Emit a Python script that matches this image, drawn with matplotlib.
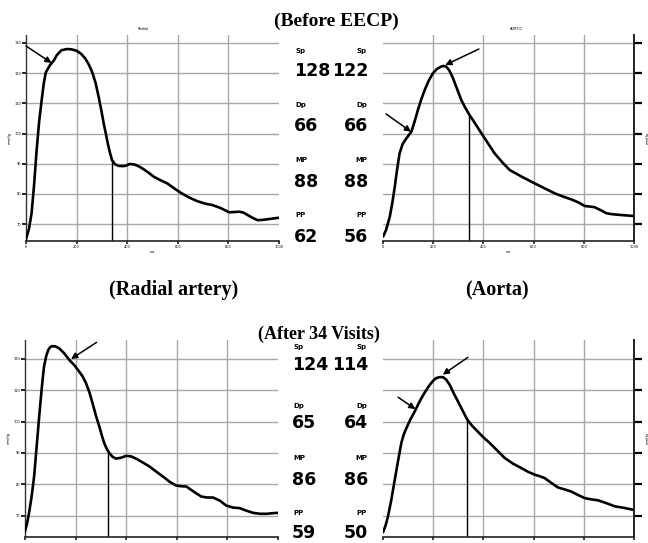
import matplotlib
matplotlib.use("Agg")
import matplotlib.pyplot as plt

# ---------------- data ----------------
# Before EECP - radial artery (time ms, pressure mmHg)
radial_before_t = [0, 12, 22, 32, 42, 52, 62, 70, 78, 95, 110, 122, 140, 161, 180, 201, 218, 234, 248, 261,
                   275, 287, 298, 307, 316, 323, 332, 340, 352, 366, 380, 393, 410, 426, 442, 459, 480, 505,
                   530, 558, 585, 611, 645, 677, 707, 737, 770, 803, 823, 843, 860, 876, 895, 915, 935, 955, 980, 1000]
radial_before_p = [65.0, 68.5, 73.6, 83.0, 94.5, 104.0, 111.1, 116.5, 120.2, 122.7, 124.2, 126.0, 127.6, 128.0, 127.9, 127.4, 126.4, 124.9, 122.9, 120.5,
                   116.8, 112.2, 107.6, 103.4, 99.8, 96.8, 93.6, 91.2, 89.8, 89.3, 89.2, 89.3, 89.9, 89.8, 89.3, 88.5, 87.3, 85.7,
                   84.6, 83.5, 81.9, 80.4, 78.8, 77.6, 76.8, 76.3, 75.3, 73.9, 74.0, 74.1, 73.8, 73.0, 72.1, 71.3, 71.4, 71.6, 71.9, 72.1]

# Before EECP - aorta
aorta_before_t = [0, 12, 27, 37, 47, 56, 66, 78, 93, 113, 126, 139, 152, 166, 182, 199, 215, 232, 242, 252, 265,
                  279, 295, 312, 328, 345, 368, 392, 418, 445, 475, 505, 555, 604, 645, 684, 718, 750, 778,
                  804, 825, 843, 870, 890, 910, 950, 996]
aorta_before_p = [65.8, 68.0, 72.4, 77.0, 82.4, 88.0, 93.4, 96.5, 98.4, 100.6, 104.0, 107.8, 111.2, 114.4, 117.5, 120.0, 121.4, 122.2, 122.4, 122.2, 120.8,
                  118.3, 114.8, 111.1, 108.5, 106.1, 103.2, 100.1, 96.8, 93.4, 90.5, 87.9, 85.6, 83.5, 81.8, 80.2, 79.1, 78.2, 77.2,
                  76.0, 75.8, 75.6, 74.5, 73.6, 73.3, 73.0, 72.7]

# After 34 visits - radial artery
radial_after_t = [0, 8, 16, 26, 36, 46, 56, 66, 75, 84, 92, 100, 108, 120, 135, 155, 175, 195, 214, 228, 241,
                  254, 267, 280, 294, 304, 313, 322, 333, 346, 360, 380, 400, 420, 439, 465, 492, 518, 545,
                  572, 598, 618, 638, 668, 697, 720, 743, 770, 796, 822, 849, 875, 902, 930, 955, 980, 999]
radial_after_p = [65.0, 67.5, 70.9, 76.0, 82.5, 92.0, 101.6, 110.5, 117.5, 121.0, 122.9, 123.8, 124.1, 124.0, 123.4, 121.8, 119.7, 118.0, 116.0, 114.4, 112.3,
                  109.5, 105.9, 102.0, 98.4, 95.5, 93.2, 91.5, 90.0, 88.8, 88.2, 88.5, 89.1, 88.9, 88.2, 87.0, 85.7, 84.1, 82.5,
                  80.8, 79.6, 79.4, 79.3, 77.6, 76.1, 75.8, 75.8, 74.8, 73.2, 72.6, 72.4, 71.6, 70.9, 70.6, 70.6, 70.8, 70.9]

# After 34 visits - aorta
aorta_after_t = [0, 10, 20, 33, 47, 60, 73, 83, 93, 108, 126, 140, 153, 170, 186, 199, 212, 226, 239, 252, 266,
                 282, 299, 318, 336, 356, 378, 400, 425, 455, 485, 518, 551, 578, 604, 624, 644, 670, 697,
                 723, 750, 777, 804, 830, 857, 890, 923, 960, 996]
aorta_after_p = [64.7, 66.8, 69.8, 75.0, 81.5, 87.5, 93.2, 96.0, 97.9, 100.5, 103.2, 105.5, 107.5, 109.8, 111.7, 113.0, 113.9, 114.2, 114.2, 113.4, 111.7,
                 109.0, 106.4, 103.4, 100.6, 98.6, 96.8, 95.0, 93.2, 90.8, 88.4, 86.6, 85.2, 84.0, 83.1, 82.6, 82.0, 80.5, 79.0,
                 78.4, 77.7, 76.6, 75.6, 75.2, 74.9, 74.0, 73.0, 72.5, 71.9]

# dicrotic / reflection marker (time ms, pressure mmHg)
marker_t = [341, 343, 328, 333]
marker_p = [91.2, 106.1, 90.0, 100.6]

# pressure read-outs
labels = ["Sp", "Dp", "MP", "PP"]
before_radial_vals = ["128", "66", "88", "62"]
before_aorta_vals = ["122", "66", "88", "56"]
after_radial_vals = ["124", "65", "86", "59"]
after_aorta_vals = ["114", "64", "86", "50"]

titles = ["(Before EECP)", "(After 34 Visits)"]
site_names = ["(Radial artery)", "(Aorta)"]
small_titles = ["Radial", "AORTIC"]

x_grid = [200, 400, 600, 800]
top_grid = [70, 80, 90, 100, 110, 120, 130]
bottom_grid = [70, 80, 90, 100, 110, 120]

# ---------------- figure ----------------
W, H = 648, 543
fig = plt.figure(figsize=(W / 100, H / 100), dpi=100)
fig.patch.set_facecolor("white")


def rect(x0, y0, x1, y1):
    return [x0 / W, 1 - y1 / H, (x1 - x0) / W, (y1 - y0) / H]


def fx(x):
    return x / W


def fy(y):
    return 1 - y / H


panels = [
    dict(r=rect(26, 35, 279, 241), t=radial_before_t, p=radial_before_p, ylim=(64.4, 132.65), grid=top_grid,
         side="left", m=0, top=True, arrows=[((101, 123.4), (0, 129.0))]),
    dict(r=rect(383, 35, 634, 241), t=aorta_before_t, p=aorta_before_p, ylim=(64.4, 132.65), grid=top_grid,
         side="right", m=1, top=True, arrows=[((248, 122.7), (382, 128.0)), ((112, 100.6), (12, 106.5))]),
    dict(r=rect(25, 340, 278, 537), t=radial_after_t, p=radial_after_p, ylim=(63.2, 126.05), grid=bottom_grid,
         side="left", m=2, top=False, arrows=[((182, 120.0), (283, 125.3))]),
    dict(r=rect(383, 340, 634, 537), t=aorta_after_t, p=aorta_after_p, ylim=(63.2, 126.05), grid=bottom_grid,
         side="right", m=3, top=False, arrows=[((238, 115.0), (338, 120.5)), ((129, 104.0), (60, 107.8))]),
]

for i, pn in enumerate(panels):
    ax = fig.add_axes(pn["r"])
    ax.set_xlim(0, 1000)
    ax.set_ylim(*pn["ylim"])
    for xv in x_grid:
        ax.axvline(xv, color="#a8a8a8", lw=1.0, zorder=1)
    for yv in pn["grid"]:
        ax.axhline(yv, color="#a8a8a8", lw=1.0, zorder=1)
    ax.plot(pn["t"], pn["p"], color="black", lw=1.9, zorder=3, solid_capstyle="round")
    ax.vlines(marker_t[pn["m"]], pn["ylim"][0], marker_p[pn["m"]], color="black", lw=1.0, zorder=2)
    for (xy, xytext) in pn["arrows"]:
        ax.annotate("", xy=xy, xytext=xytext,
                    arrowprops=dict(arrowstyle="-|>", color="black", lw=1.1,
                                    mutation_scale=9, shrinkA=0, shrinkB=0),
                    annotation_clip=False, zorder=4)
    for s in ["top", "left", "right"]:
        ax.spines[s].set_visible(False)
    ax.spines["bottom"].set_color("#222222")
    ax.spines["bottom"].set_linewidth(1.2)
    ax.set_xticks([0] + x_grid + [1000])
    if pn["top"]:
        ax.set_xticklabels(["0", "200", "400", "600", "800", "1000"], fontsize=2.5)
        ax.set_xlabel("ms", fontsize=2.5, labelpad=0.5)
    else:
        ax.set_xticklabels([])
    ax.tick_params(axis="x", length=2.5, width=1.2, pad=0.5, color="#222222")
    ax.set_yticks(pn["grid"])
    if pn["side"] == "left":
        ax.set_yticklabels([str(v) for v in pn["grid"]], fontsize=2.5)
        ax.spines["left"].set_visible(True)
        ax.spines["left"].set_color("#333333")
        ax.spines["left"].set_linewidth(1.0)
        ax.yaxis.tick_left()
        ax.tick_params(axis="y", length=3, width=1.2, pad=0.5)
        ax.set_ylabel("mmHg", fontsize=2.5)
        ax.yaxis.set_label_coords(-0.055, 0.5)
    else:
        ax.set_yticklabels([])
        ax.spines["right"].set_visible(True)
        ax.spines["right"].set_color("#222222")
        ax.spines["right"].set_linewidth(1.4)
        ax.yaxis.tick_right()
        ax.yaxis.set_label_position("right")
        ax.tick_params(axis="y", length=6, width=1.6, pad=0.5)
        ax.set_ylabel("mmHg", fontsize=2.5)
        ax.yaxis.set_label_coords(1.045, 0.5)
    ax.set_facecolor("none")

# small panel titles
fig.text(fx(143), fy(29), small_titles[0], fontsize=2.5, ha="center", va="center")
fig.text(fx(516), fy(29), small_titles[1], fontsize=2.5, ha="center", va="center")

# big titles
fig.text(fx(336), fy(21), titles[0], fontsize=14, fontweight="bold", family="Liberation Serif",
         ha="center", va="center")
fig.text(fx(319), fy(334), titles[1], fontsize=13, fontweight="bold", family="Liberation Serif",
         ha="center", va="center")
fig.text(fx(174), fy(290), site_names[0], fontsize=14.5, fontweight="bold", family="Liberation Serif",
         ha="center", va="center")
fig.text(fx(497), fy(290), site_names[1], fontsize=14.5, fontweight="bold", family="Liberation Serif",
         ha="center", va="center")

# read-outs
top_label_y = [51, 105, 160, 215]
top_val_y = [71, 126, 182, 237]
bot_label_y = [347, 406, 458, 513]
bot_val_y = [365, 423, 480, 533]

num_font = dict(fontsize=12.5, fontweight="bold", family="DejaVu Sans", va="center")
lab_font = dict(fontsize=5, fontweight="bold", family="DejaVu Sans", va="center")

for lab, vl, vr, ly, vy in zip(labels, before_radial_vals, before_aorta_vals, top_label_y, top_val_y):
    fig.text(fx(295), fy(ly), lab, ha="left", **lab_font)
    fig.text(fx(367), fy(ly), lab, ha="right", **lab_font)
    fig.text(fx(294), fy(vy), vl, ha="left", **num_font)
    fig.text(fx(368), fy(vy), vr, ha="right", **num_font)

for lab, vl, vr, ly, vy in zip(labels, after_radial_vals, after_aorta_vals, bot_label_y, bot_val_y):
    fig.text(fx(293), fy(ly), lab, ha="left", **lab_font)
    fig.text(fx(367), fy(ly), lab, ha="right", **lab_font)
    fig.text(fx(292), fy(vy), vl, ha="left", **num_font)
    fig.text(fx(368), fy(vy), vr, ha="right", **num_font)

fig.savefig("out.png", dpi=100, facecolor="white")
